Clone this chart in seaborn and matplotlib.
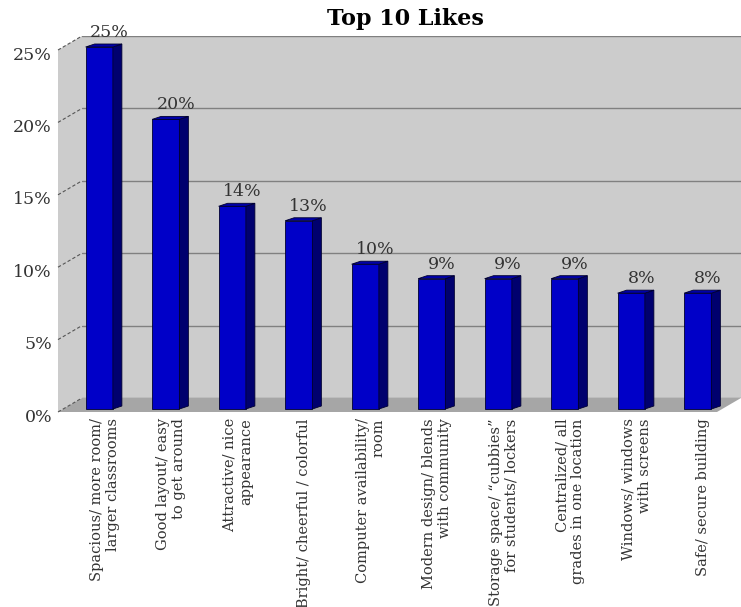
import matplotlib
matplotlib.use("Agg")
import matplotlib.pyplot as plt
import seaborn as sns
import pandas as pd
import numpy as np
from matplotlib.transforms import ScaledTranslation, IdentityTransform
from matplotlib.patches import Polygon
from matplotlib.lines import Line2D

# ---------------- data ----------------
categories = [
    "Spacious/ more room/\nlarger classrooms",
    "Good layout/ easy\nto get around",
    "Attractive/ nice\nappearance",
    "Bright/ cheerful / colorful",
    "Computer availability/\nroom",
    "Modern design/ blends\nwith community",
    "Storage space/ \u201ccubbies\u201d\nfor students/ lockers",
    "Centralized/ all\ngrades in one location",
    "Windows/ windows\nwith screens",
    "Safe/ secure building",
]
values = [25, 20, 14, 13, 10, 9, 9, 9, 8, 8]
yticks = [0, 5, 10, 15, 20, 25]
ytick_labels = ["0%", "5%", "10%", "15%", "20%", "25%"]
title = "Top 10 Likes"

# ---------------- style ----------------
W, H, DPI = 741, 607, 100
sns.set_theme(style="white")
plt.rcParams['font.family'] = ['DejaVu Serif', 'DejaVu Sans']
TXT = '#333333'

fig = plt.figure(figsize=(W / DPI, H / DPI), dpi=DPI)
fig.patch.set_facecolor('white')


def px_axes(l, t, r, b):
    return [l / W, (H - b) / H, (r - l) / W, (b - t) / H]


def disp(x, y):
    # image pixel coords -> display coords
    return (x, H - y)


DX, DY = 24, 14                      # depth of the back wall
front = (58, 50, 717, 412)           # front plane (l, t, r, b) in image px
back = (front[0] + DX, front[1] - DY, front[2] + DX, front[3] - DY)

# back wall
axb = fig.add_axes(px_axes(*back), zorder=0)
axb.set_facecolor('#cccccc')
axb.set_ylim(0, 25)
axb.set_xlim(0, 1)
axb.set_yticks(yticks)
axb.set_xticks([])
axb.grid(axis='y', color='#808080', lw=1)
axb.tick_params(left=False, labelleft=False)
for s in axb.spines.values():
    s.set_visible(False)

# left side wall and floor
side = Polygon([disp(front[0], front[1]), disp(back[0], back[1]),
                disp(back[0], back[3]), disp(front[0], front[3])],
               closed=True, transform=IdentityTransform(),
               facecolor='#cccccc', edgecolor='none', zorder=0.5)
fig.add_artist(side)
floor = Polygon([disp(front[0], front[3]), disp(front[2], front[3]),
                 disp(back[2], back[3]), disp(back[0], back[3])],
                closed=True, transform=IdentityTransform(),
                facecolor='#a6a6a6', edgecolor='none', zorder=0.6)
fig.add_artist(floor)

# front plane axes with bars
ax = fig.add_axes(px_axes(*front), zorder=1)
ax.patch.set_alpha(0)
df = pd.DataFrame({'cat': categories, 'val': values})
sns.barplot(data=df, x='cat', y='val', color='#0000c8', saturation=1,
            width=0.41, edgecolor='#000030', linewidth=0.6, ax=ax)
ax.set_xlim(-0.5, 9.41)
ax.set_ylim(0, 25)
ax.set_xlabel('')
ax.set_ylabel('')
for s in ax.spines.values():
    s.set_visible(False)
ax.grid(False)

# dashed marks on the side wall
for t in yticks:
    yf = ax.transData.transform((0, t))[1]
    yb = axb.transData.transform((0, t))[1]
    fig.add_artist(Line2D([front[0], back[0]], [yf, yb], transform=IdentityTransform(),
                          color='#555555', lw=0.8, ls=(0, (3, 2)), zorder=0.7))

# 3D look for bars
BX, BY = 8, 3        # bar placement inside the depth
SX, SY = 9, 3        # bar depth
shift = ScaledTranslation(BX / DPI, BY / DPI, fig.dpi_scale_trans)
for p in list(ax.patches):
    p.set_transform(ax.transData + shift)
    p.set_clip_on(False)
    x0, w, h = p.get_x(), p.get_width(), p.get_height()
    (dx0, dy0), (dx1, dy1) = ax.transData.transform([(x0, 0), (x0 + w, h)])
    dx0 += BX; dx1 += BX; dy0 += BY; dy1 += BY
    sidef = Polygon([(dx1, dy0), (dx1, dy1), (dx1 + SX, dy1 + SY), (dx1 + SX, dy0 + SY)],
                    closed=True, transform=IdentityTransform(), facecolor='#00006e',
                    edgecolor='#000030', lw=0.6, clip_on=False, zorder=3)
    topf = Polygon([(dx0, dy1), (dx1, dy1), (dx1 + SX, dy1 + SY), (dx0 + SX, dy1 + SY)],
                   closed=True, transform=IdentityTransform(), facecolor='#0000a8',
                   edgecolor='#000030', lw=0.6, clip_on=False, zorder=3)
    ax.add_patch(sidef)
    ax.add_patch(topf)

# value labels
for i, v in enumerate(values):
    ax.annotate(f"{v}%", xy=(i, v), xytext=(18, 13), textcoords='offset pixels',
                ha='center', va='baseline', fontsize=12.5, color=TXT,
                annotation_clip=False, zorder=5)

# y ticks
ax.set_yticks(yticks)
ax.set_yticklabels(ytick_labels)
ax.tick_params(axis='y', length=0, pad=4.3, labelsize=12.5, labelcolor=TXT, left=False)
yoff = ScaledTranslation(0, -3 / DPI, fig.dpi_scale_trans)
for lab in ax.get_yticklabels():
    lab.set_transform(lab.get_transform() + yoff)

# x ticks
ax.set_xticks(range(len(categories)))
ax.set_xticklabels(categories, rotation=90, ha='center', va='top',
                   multialignment='right', fontsize=10.5, color=TXT)
ax.tick_params(axis='x', length=0, pad=4.5, bottom=False)
xoff = ScaledTranslation(13.5 / DPI, 0, fig.dpi_scale_trans)
for lab in ax.get_xticklabels():
    lab.set_transform(lab.get_transform() + xoff)

fig.text(405 / W, 1 - 19 / H, title, ha='center', va='center',
         fontsize=16, fontweight='bold', color='black')

fig.savefig("out.png", dpi=DPI, facecolor='white')
